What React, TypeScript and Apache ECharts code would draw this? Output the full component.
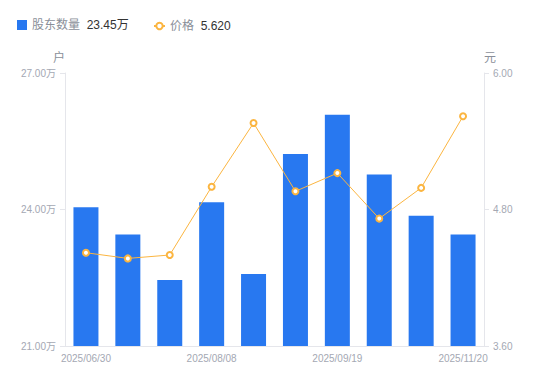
import React, { useEffect, useRef } from "react";
import * as echarts from "echarts";

const categories = [
  "2025/06/30", "2025/07/10", "2025/07/31", "2025/08/08", "2025/08/20",
  "2025/08/29", "2025/09/19", "2025/09/30", "2025/10/31", "2025/11/20",
];
const holders = [24.05, 23.45, 22.45, 24.16, 22.58, 25.22, 26.08, 24.77, 23.86, 23.45];
const prices = [4.42, 4.37, 4.40, 5.00, 5.56, 4.96, 5.12, 4.72, 4.99, 5.62];
const holderName = "股东数量";
const priceName = "价格";
const holderLatest = "23.45万";
const priceLatest = "5.620";

const FONT = '"Liberation Sans", "Noto Sans CJK SC", sans-serif';

export default function App() {
  const ref = useRef<HTMLDivElement>(null);
  useEffect(() => {
    document.body.style.margin = "0";
    if (!ref.current) return;
    const chart = echarts.init(ref.current, undefined, { renderer: "svg" });
    const latest: Record<string, string> = { [holderName]: holderLatest, [priceName]: priceLatest };
    const legendText = {
      rich: {
        n: { color: "#8a8f99", fontSize: 12, fontFamily: FONT },
        v: { color: "#333", fontSize: 12, fontFamily: FONT },
      },
    };
    const fmt = (n: string) => `{n|${n}}  {v|${latest[n]}}`;
    chart.setOption({
      animation: false,
      textStyle: { fontFamily: FONT },
      legend: [
        {
          left: 17,
          top: 19,
          padding: 0,
          itemWidth: 10,
          itemHeight: 10,
          data: [{ name: holderName, icon: "rect" }],
          formatter: fmt,
          textStyle: legendText,
        },
        {
          left: 153,
          top: 20,
          padding: 0,
          itemWidth: 11,
          itemHeight: 8,
          data: [{ name: priceName }],
          formatter: fmt,
          textStyle: legendText,
        },
      ],
      grid: { left: 65, right: 66, top: 73, bottom: 35 },
      xAxis: {
        type: "category",
        data: categories,
        axisLine: { lineStyle: { color: "#e5e6eb" } },
        axisTick: { show: false },
        axisLabel: { interval: 2, color: "#a4a8b3", fontSize: 10, margin: 7 },
      },
      yAxis: [
        {
          type: "value",
          name: "户",
          min: 21,
          max: 27,
          interval: 3,
          nameTextStyle: { color: "#8a8f99", fontSize: 12, align: "right" },
          nameGap: 9,
          splitLine: { show: false },
          axisLine: { show: true, lineStyle: { color: "#e5e6eb" } },
          axisTick: { show: true, length: 5, lineStyle: { color: "#e5e6eb" } },
          axisLabel: { color: "#a4a8b3", fontSize: 10, margin: 9, formatter: (v: number) => v.toFixed(2) + "万" },
        },
        {
          type: "value",
          name: "元",
          min: 3.6,
          max: 6.0,
          interval: 1.2,
          nameTextStyle: { color: "#8a8f99", fontSize: 12, align: "left" },
          nameGap: 9,
          splitLine: { show: false },
          axisLine: { show: true, lineStyle: { color: "#e5e6eb" } },
          axisTick: { show: true, length: 5, lineStyle: { color: "#e5e6eb" } },
          axisLabel: { color: "#a4a8b3", fontSize: 10, margin: 9, formatter: (v: number) => v.toFixed(2) },
        },
      ],
      series: [
        {
          name: holderName,
          type: "bar",
          data: holders,
          barWidth: 25,
          itemStyle: { color: "#2878f0" },
        },
        {
          name: priceName,
          type: "line",
          yAxisIndex: 1,
          data: prices,
          symbol: "emptyCircle",
          symbolSize: 6,
          lineStyle: { color: "#fbb540", width: 1 },
          itemStyle: { color: "#fbb540", borderWidth: 2 },
        },
      ],
    });
    return () => chart.dispose();
  }, []);
  return <div ref={ref} style={{ width: 550, height: 381 }} />;
}
